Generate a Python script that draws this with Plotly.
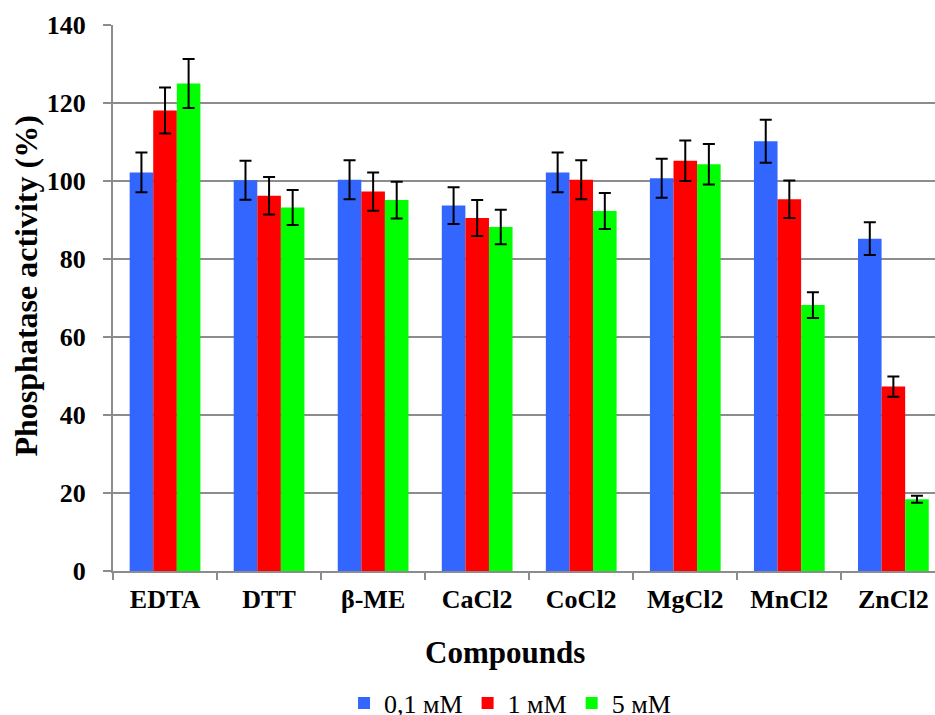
import plotly.graph_objects as go

categories = ["EDTA", "DTT", "β-ME", "CaCl2", "CoCl2", "MgCl2", "MnCl2", "ZnCl2"]
series_names = ["0,1 мМ", "1 мМ", "5 мМ"]
vals_01 = [102.2, 100.2, 100.3, 93.7, 102.2, 100.7, 110.2, 85.2]
vals_1 = [118.1, 96.2, 97.3, 90.5, 100.3, 105.2, 95.3, 47.3]
vals_5 = [125.0, 93.2, 95.1, 88.2, 92.3, 104.3, 68.2, 18.4]
err_01 = [5.1, 5.0, 5.0, 4.7, 5.1, 5.0, 5.5, 4.2]
err_1 = [5.9, 4.8, 4.9, 4.6, 5.0, 5.2, 4.8, 2.6]
err_5 = [6.3, 4.5, 4.7, 4.4, 4.6, 5.2, 3.3, 0.9]
colors = ["#3366FF", "#FF0000", "#00FF00"]
y_ticks = [0, 20, 40, 60, 80, 100, 120, 140]

fig = go.Figure()
for name, vals, errs, col in zip(series_names, [vals_01, vals_1, vals_5],
                                 [err_01, err_1, err_5], colors):
    fig.add_trace(go.Bar(
        x=categories, y=vals, name=name,
        marker=dict(color=col, line=dict(width=0)),
        error_y=dict(type="data", array=errs, visible=True,
                     color="black", thickness=2, width=6),
    ))

font_family = "Liberation Serif"
grid_col = "#8C8C8C"

fig.update_layout(
    width=935, height=715,
    plot_bgcolor="white", paper_bgcolor="white",
    barmode="group", bargap=0.32, bargroupgap=0,
    margin=dict(l=113, r=0, t=25, b=144, autoexpand=False),
    font=dict(family=font_family, color="black"),
    xaxis=dict(
        type="category", range=[-0.5, 7.4], automargin=False,
        tickson="boundaries", ticks="outside", ticklen=7, tickwidth=2,
        tickcolor=grid_col, showline=True, linecolor=grid_col, linewidth=2,
        showgrid=False, ticklabelstandoff=4,
        tickfont=dict(family=font_family, size=26, color="black", weight="bold"),
    ),
    yaxis=dict(
        range=[0, 140], tickvals=y_ticks, ticks="outside", ticklen=8, tickwidth=2,
        automargin=False, ticklabelstandoff=12,
        tickcolor=grid_col, showline=True, linecolor=grid_col, linewidth=2,
        showgrid=True, gridcolor=grid_col, gridwidth=2, zeroline=False,
        tickfont=dict(family=font_family, size=26, color="black", weight="bold"),
    ),
    legend=dict(
        orientation="h", x=0.483, xanchor="center", y=-0.242, yanchor="middle",
        font=dict(family=font_family, size=26, color="black"),
        itemsizing="constant", traceorder="normal",
    ),
    annotations=[
        dict(
            text="Compounds", xref="paper", yref="paper",
            x=(505 - 113) / 822, y=(571 - 652) / 546, xanchor="center", yanchor="middle",
            showarrow=False,
            font=dict(family=font_family, size=31, color="black", weight="bold"),
        ),
        dict(
            text="Phosphatase activity (%)", xref="paper", yref="paper",
            x=(25 - 113) / 822, y=(571 - 286.5) / 546, xanchor="center", yanchor="middle",
            textangle=-90, showarrow=False,
            font=dict(family=font_family, size=32, color="black", weight="bold"),
        ),
    ],
)

post = (
    "document.body.style.margin='0';"
    "var st=document.createElement('style');"
    "st.innerHTML='.modebar-container{display:none !important;}';"
    "document.head.appendChild(st);"
)
fig.write_html("out.html", post_script=post)
